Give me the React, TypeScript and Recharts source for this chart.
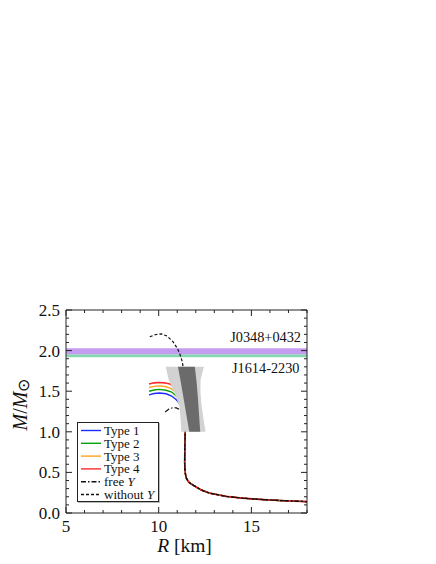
import React from 'react';
import {
  ComposedChart,
  Line,
  Scatter,
  XAxis,
  YAxis,
  ReferenceArea,
  Legend,
} from 'recharts';

const SERIF = "'Liberation Serif', 'Times New Roman', Times, serif";
const FRAME = '#222';

// axis ticks
const xTicks = [5, 6, 7, 8, 9, 10, 11, 12, 13, 14, 15, 16, 17, 18];
const xMajor = [5, 10, 15];
const yTicks = [
  0, 0.1, 0.2, 0.3, 0.4, 0.5, 0.6, 0.7, 0.8, 0.9, 1.0, 1.1, 1.2, 1.3, 1.4,
  1.5, 1.6, 1.7, 1.8, 1.9, 2.0, 2.1, 2.2, 2.3, 2.4, 2.5,
];
const yMajor = [0, 0.5, 1.0, 1.5, 2.0, 2.5];

// shared low-mass branch (R in km, M in solar masses)
const commonBranch = [
  { r: 11.43, m: 1.0 }, { r: 11.41, m: 0.8 }, { r: 11.4, m: 0.62 },
  { r: 11.42, m: 0.52 }, { r: 11.45, m: 0.47 }, { r: 11.49, m: 0.43 },
  { r: 11.62, m: 0.38 }, { r: 11.84, m: 0.345 }, { r: 12.3, m: 0.283 },
  { r: 12.74, m: 0.245 }, { r: 13.64, m: 0.205 }, { r: 14.5, m: 0.183 },
  { r: 15.43, m: 0.168 }, { r: 16.5, m: 0.154 }, { r: 17.3, m: 0.146 },
  { r: 18, m: 0.14 },
];

const type1Branch = [
  { r: 9.48, m: 1.455 }, { r: 9.75, m: 1.472 }, { r: 10.05, m: 1.478 },
  { r: 10.4, m: 1.468 }, { r: 10.7, m: 1.44 }, { r: 10.95, m: 1.395 },
  { r: 11.12, m: 1.35 }, { r: 11.25, m: 1.3 }, { r: 11.34, m: 1.24 },
  { r: 11.42, m: 1.18 }, { r: 11.45, m: 1.12 },
];
const type2Branch = [
  { r: 9.48, m: 1.5 }, { r: 9.75, m: 1.515 }, { r: 10.03, m: 1.522 },
  { r: 10.4, m: 1.512 }, { r: 10.7, m: 1.49 }, { r: 10.95, m: 1.44 },
  { r: 11.15, m: 1.38 }, { r: 11.28, m: 1.31 }, { r: 11.37, m: 1.24 },
  { r: 11.45, m: 1.12 },
];
const type3Branch = [
  { r: 9.48, m: 1.545 }, { r: 9.75, m: 1.56 }, { r: 10.02, m: 1.566 },
  { r: 10.35, m: 1.558 }, { r: 10.65, m: 1.535 }, { r: 10.95, m: 1.488 },
  { r: 11.16, m: 1.415 }, { r: 11.3, m: 1.33 }, { r: 11.39, m: 1.245 },
  { r: 11.45, m: 1.12 },
];
const type4Branch = [
  { r: 9.48, m: 1.588 }, { r: 9.75, m: 1.603 }, { r: 10.0, m: 1.607 },
  { r: 10.3, m: 1.603 }, { r: 10.6, m: 1.59 }, { r: 10.95, m: 1.535 },
  { r: 11.17, m: 1.45 }, { r: 11.31, m: 1.35 }, { r: 11.4, m: 1.25 },
  { r: 11.45, m: 1.12 },
];
const freeYBranch = [
  { r: 10.35, m: 1.245 }, { r: 10.55, m: 1.28 }, { r: 10.75, m: 1.297 },
  { r: 10.95, m: 1.295 }, { r: 11.12, m: 1.275 }, { r: 11.27, m: 1.235 },
  { r: 11.37, m: 1.17 }, { r: 11.43, m: 1.08 },
];
const withoutYBranch = [
  { r: 9.52, m: 2.17 }, { r: 9.8, m: 2.195 }, { r: 10.14, m: 2.205 },
  { r: 10.45, m: 2.18 }, { r: 10.77, m: 2.11 }, { r: 11.0, m: 2.03 },
  { r: 11.13, m: 1.967 }, { r: 11.25, m: 1.88 }, { r: 11.32, m: 1.8 },
  { r: 11.4, m: 1.6 }, { r: 11.44, m: 1.4 }, { r: 11.45, m: 1.2 },
];

// constraint regions
const lightRegion = [
  { r: 10.38, m: 1.8 }, { r: 12.44, m: 1.8 }, { r: 12.26, m: 1.64 },
  { r: 12.25, m: 1.5 }, { r: 12.3, m: 1.35 }, { r: 12.42, m: 1.15 },
  { r: 12.53, m: 1.0 }, { r: 11.22, m: 1.0 }, { r: 11.18, m: 1.15 },
  { r: 11.13, m: 1.31 }, { r: 10.86, m: 1.47 }, { r: 10.54, m: 1.64 },
];
const darkRegion = [
  { r: 11.04, m: 1.8 }, { r: 11.95, m: 1.8 }, { r: 12.05, m: 1.6 },
  { r: 12.12, m: 1.4 }, { r: 12.18, m: 1.2 }, { r: 12.24, m: 1.0 },
  { r: 11.65, m: 1.0 }, { r: 11.5, m: 1.2 }, { r: 11.35, m: 1.4 },
  { r: 11.2, m: 1.6 },
];

const j0348Band = [1.955, 2.03];
const j1614Band = [1.918, 1.955];

const series = [
  { name: 'Type 1', data: [...type1Branch, ...commonBranch], color: '#1a2cff', dash: undefined, width: 1.4 },
  { name: 'Type 2', data: [...type2Branch, ...commonBranch], color: '#0aa00a', dash: undefined, width: 1.4 },
  { name: 'Type 3', data: [...type3Branch, ...commonBranch], color: '#ffa41a', dash: undefined, width: 1.4 },
  { name: 'Type 4', data: [...type4Branch, ...commonBranch], color: '#ff2a2a', dash: undefined, width: 1.6 },
  { name: 'free Y', data: [...freeYBranch, ...commonBranch], color: '#111', dash: '5 2 1.5 2', width: 1.2 },
  { name: 'without Y', data: [...withoutYBranch, ...commonBranch], color: '#111', dash: '3 2', width: 1.2 },
];

const isMajor = (v: number, list: number[]) => list.some((t) => Math.abs(t - v) < 1e-6);

const BottomTick = (p: any) => {
  const v = p.payload.value;
  const major = isMajor(v, xMajor);
  return (
    <g>
      <path d={`M${p.x},${p.y}V${p.y - (major ? 6 : 3)}`} stroke={FRAME} strokeWidth={1} fill="none" />
      {major && (
        <text x={p.x} y={p.y + 19} textAnchor="middle" fontSize={17} fontFamily={SERIF} fill="#111">
          {v}
        </text>
      )}
    </g>
  );
};

const TopTick = (p: any) => {
  const major = isMajor(p.payload.value, xMajor);
  return <path d={`M${p.x},${p.y}V${p.y + (major ? 6 : 3)}`} stroke={FRAME} strokeWidth={1} fill="none" />;
};

const LeftTick = (p: any) => {
  const v = p.payload.value;
  const major = isMajor(v, yMajor);
  return (
    <g>
      <path d={`M${p.x},${p.y}H${p.x + (major ? 6 : 3)}`} stroke={FRAME} strokeWidth={1} fill="none" />
      {major && (
        <text x={p.x - 6} y={p.y + 6} textAnchor="end" fontSize={17} fontFamily={SERIF} fill="#111">
          {v.toFixed(1)}
        </text>
      )}
    </g>
  );
};

const RightTick = (p: any) => {
  const major = isMajor(p.payload.value, yMajor);
  return <path d={`M${p.x},${p.y}H${p.x - (major ? 6 : 3)}`} stroke={FRAME} strokeWidth={1} fill="none" />;
};

const polygonLine = (fill: string) => (props: any) => (
  <polygon
    points={(props.points || []).map((q: any) => `${q.x},${q.y}`).join(' ')}
    fill={fill}
    stroke="none"
  />
);

const renderLegend = () => (
  <div
    style={{
      width: 82,
      height: 80,
      border: `1px solid ${FRAME}`,
      background: '#fff',
      boxSizing: 'border-box',
      boxShadow: '1px 1px 0 #bbb',
    }}
  >
    <svg width={80} height={78} style={{ display: 'block' }}>
      {series.map((s, i) => {
        const y = 7.5 + i * 12.8;
        const italicY = s.name.endsWith(' Y');
        return (
          <g key={s.name}>
            <line x1={3} x2={23} y1={y} y2={y} stroke={s.color} strokeWidth={1.4} strokeDasharray={s.dash} />
            <text x={26} y={y + 4.5} fontSize={13} fontFamily={SERIF} fill="#111">
              {italicY ? s.name.slice(0, -1) : s.name}
              {italicY && <tspan fontStyle="italic">Y</tspan>}
            </text>
          </g>
        );
      })}
    </svg>
  </div>
);

const YLabel = (props: any) => {
  const vb = props.viewBox || { x: 16, y: 310, width: 50, height: 203 };
  const cx = vb.x + 11;
  const cy = vb.y + vb.height / 2 - 7;
  return (
    <text
      x={cx}
      y={cy}
      transform={`rotate(-90 ${cx} ${cy})`}
      textAnchor="middle"
      fontSize={20}
      fontFamily={SERIF}
      fill="#111"
    >
      <tspan fontStyle="italic">M</tspan>/<tspan fontStyle="italic">M</tspan>
      <tspan fontSize={16} dy={2}>⊙</tspan>
    </text>
  );
};

const XLabel = (props: any) => {
  const vb = props.viewBox || { x: 66, y: 513, width: 241, height: 30 };
  return (
    <text x={vb.x + vb.width / 2 - 2} y={vb.y + 39} textAnchor="middle" fontSize={19.5} fontFamily={SERIF} fill="#111">
      <tspan fontStyle="italic">R</tspan> [km]
    </text>
  );
};

const bandLabel = (text: string, above: boolean) => (props: any) => {
  const vb = props.viewBox;
  if (!vb) return null;
  const y = above ? vb.y - 6 : vb.y + vb.height + 16;
  return (
    <text x={vb.x + vb.width - (above ? 6 : 7.5)} y={y} textAnchor="end" fontSize={14.3} fontFamily={SERIF} fill="#111">
      {text}
    </text>
  );
};

export default function App() {
  return (
    <div style={{ position: 'absolute', left: 0, top: 0, width: 436, height: 564, background: '#fff' }}>
      <ComposedChart width={436} height={564} margin={{ top: 309, right: 128, bottom: 21, left: 16 }}>
        <XAxis
          xAxisId="bottom"
          type="number"
          dataKey="r"
          domain={[5, 18]}
          ticks={xTicks}
          interval={0}
          allowDataOverflow
          height={30}
          tickSize={0}
          tickMargin={0}
          tickLine={false}
          axisLine={{ stroke: FRAME }}
          tick={(p: any) => <BottomTick {...p} />}
          label={<XLabel />}
        />
        <XAxis
          xAxisId="top"
          orientation="top"
          type="number"
          dataKey="r"
          domain={[5, 18]}
          ticks={xTicks}
          interval={0}
          allowDataOverflow
          height={1}
          tickSize={0}
          tickMargin={0}
          tickLine={false}
          axisLine={{ stroke: FRAME }}
          tick={(p: any) => <TopTick {...p} />}
        />
        <YAxis
          yAxisId="left"
          type="number"
          domain={[0, 2.5]}
          ticks={yTicks}
          interval={0}
          allowDataOverflow
          width={50}
          tickSize={0}
          tickMargin={0}
          tickLine={false}
          axisLine={{ stroke: FRAME }}
          tick={(p: any) => <LeftTick {...p} />}
          label={<YLabel />}
        />
        <YAxis
          yAxisId="right"
          orientation="right"
          type="number"
          domain={[0, 2.5]}
          ticks={yTicks}
          interval={0}
          allowDataOverflow
          width={1}
          tickSize={0}
          tickMargin={0}
          tickLine={false}
          axisLine={{ stroke: FRAME }}
          tick={(p: any) => <RightTick {...p} />}
        />

        <ReferenceArea
          xAxisId="bottom"
          yAxisId="left"
          y1={j1614Band[0]}
          y2={j1614Band[1]}
          fill="#86d8b0"
          fillOpacity={1}
          stroke="none"
          label={bandLabel('J1614-2230', false)}
        />
        <ReferenceArea
          xAxisId="bottom"
          yAxisId="left"
          y1={j0348Band[0]}
          y2={j0348Band[1]}
          fill="#c49cf0"
          fillOpacity={1}
          stroke="none"
          label={bandLabel('J0348+0432', true)}
        />

        <Scatter
          xAxisId="bottom"
          yAxisId="left"
          data={lightRegion}
          dataKey="m"
          line={polygonLine('#d2d2d2')}
          shape={() => <g />}
          legendType="none"
          isAnimationActive={false}
        />
        <Scatter
          xAxisId="bottom"
          yAxisId="left"
          data={darkRegion}
          dataKey="m"
          line={polygonLine('#6b6b6b')}
          shape={() => <g />}
          legendType="none"
          isAnimationActive={false}
        />

        {series.map((s) => (
          <Line
            key={s.name}
            xAxisId="bottom"
            yAxisId="left"
            name={s.name}
            data={s.data}
            dataKey="m"
            type="linear"
            stroke={s.color}
            strokeWidth={s.width}
            strokeDasharray={s.dash}
            dot={false}
            activeDot={false}
            isAnimationActive={false}
          />
        ))}

        <ReferenceArea
          xAxisId="bottom"
          yAxisId="left"
          fill="none"
          stroke={FRAME}
          strokeWidth={1}
          ifOverflow="visible"
        />

        <Legend
          layout="vertical"
          align="center"
          verticalAlign="middle"
          content={renderLegend}
          wrapperStyle={{ left: 77, top: 422, width: 82, height: 80 }}
        />
      </ComposedChart>
    </div>
  );
}
